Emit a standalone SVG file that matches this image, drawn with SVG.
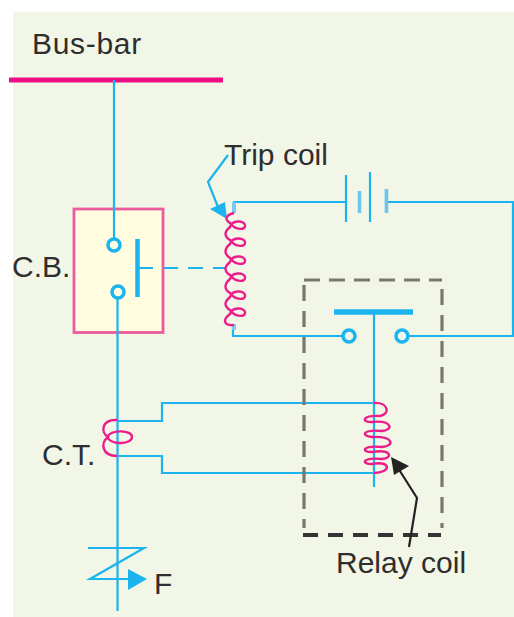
<svg xmlns="http://www.w3.org/2000/svg" width="514" height="617" viewBox="0 0 514 617">
<style>
.w{fill:none;stroke:#1cb4ee;stroke-width:2.2}
.c{fill:none;stroke:#1cb4ee;stroke-width:3.5}
.p{fill:none;stroke:#ec1c8c;stroke-width:2.4}
.t{font-family:"Liberation Sans",Arial,sans-serif;font-size:30px;fill:#2e2e2e}
.d{fill:none;stroke:#77776e;stroke-width:3.2}
</style>
<rect width="514" height="617" fill="#fff"/>
<rect x="13" y="12" width="501" height="605" fill="#f2f6e6"/>
<g id="circuit-breaker"><rect x="74" y="209" width="89" height="123.500" fill="#fffce0" stroke="#ec5c9c" stroke-width="2.8"/>
<circle class="c" cx="114" cy="245" r="6"/><circle class="c" cx="118" cy="292" r="6"/>
<path d="M137.500 239V297" fill="none" stroke="#1cb4ee" stroke-width="4.500"/></g>
<g id="busbar"><path d="M9 80H223" stroke="#ec0c84" stroke-width="5" fill="none"/></g>
<g id="connectors">
<path class="w" d="M114 80V239M117.500 298V611M137 268H153"/>
<path class="w" stroke-dasharray="15 10" d="M163 268H225"/>
<path class="w" d="M233 202H346M386 202H513V336H408M233 324V336H343"/>
<path d="M234 202V213M234 324V330" fill="none" stroke="#7cc8ee" stroke-width="4"/>
<path class="w" d="M346 175V222M370 172V222M386 189V213M374 312V487M117 421H162V403H374M117 456H162V473H374"/>
<path fill="none" stroke="#6cc4f0" stroke-width="3.500" d="M359.500 191V213M386.500 189V213"/>
<path d="M334 312H413" stroke="#1cb4ee" stroke-width="5.500" fill="none"/>
<circle class="c" cx="349" cy="336" r="6"/><circle class="c" cx="402" cy="336" r="6"/>
<path class="w" d="M88 548H144L90 579H135"/>
<path d="M128 569L147 579L128 590Z" fill="#1cb4ee"/>
<path class="w" d="M228 155L208 182L218 207"/><path d="M210 209L225 202L227 219Z" fill="#1cb4ee"/>
</g>
<g id="trip-coil"><path class="p" d="M234 213C226 215 224 219 230 223C236 231 246 230 245 225C244 220 232 220 230 227C224 232 224 236 230 240C236 248 246 247 245 242C244 237 232 237 230 244C224 249 224 254 230 258C236 266 246 265 245 260C244 255 232 255 230 262C224 267 224 271 230 275C236 283 246 282 245 277C244 272 232 272 230 279C224 284 224 289 230 293C236 301 246 300 245 295C244 290 232 290 230 297C224 302 224 306 230 310C236 318 246 317 245 312C244 307 232 307 230 314C222 320 224 326 234 325"/></g>
<g id="current-transformer"><path class="p" d="M117 420C102 419 100 432 108 437C100 443 102 456 117 456M107 437C112 429 132 430 132 437C132 444 112 446 107 437"/></g>
<g id="relay-coil"><path class="p" d="M374 403C388 402 391 414 380 416C363 415 360 422 372 422C392 420 394 430 382 431C363 429 360 436 372 437C394 436 395 446 382 447C363 445 360 452 372 452C392 449 393 458 382 459C363 457 360 464 372 464C392 460 391 473 374 473"/></g>
<g id="relay-box"><path class="d" stroke-dasharray="16 9" d="M304 280H442"/><path class="d" stroke-dasharray="16 10" d="M304 285V528M442 289V528"/><path fill="none" stroke="#333" stroke-width="4" stroke-dasharray="15 10" d="M303 535H441"/></g>
<g id="pointer"><path d="M409 547L417 498L398 468" fill="none" stroke="#222" stroke-width="2.200"/><path d="M391 457L409 466L394 475Z" fill="#222"/></g>
<g id="labels"><text class="t" x="32" y="54" letter-spacing="0.700">Bus-bar</text><text class="t" x="224" y="165">Trip coil</text><text class="t" x="12" y="277">C.B.</text><text class="t" x="42" y="465">C.T.</text><text class="t" x="154" y="594">F</text><text class="t" x="336" y="573">Relay coil</text></g>
</svg>
